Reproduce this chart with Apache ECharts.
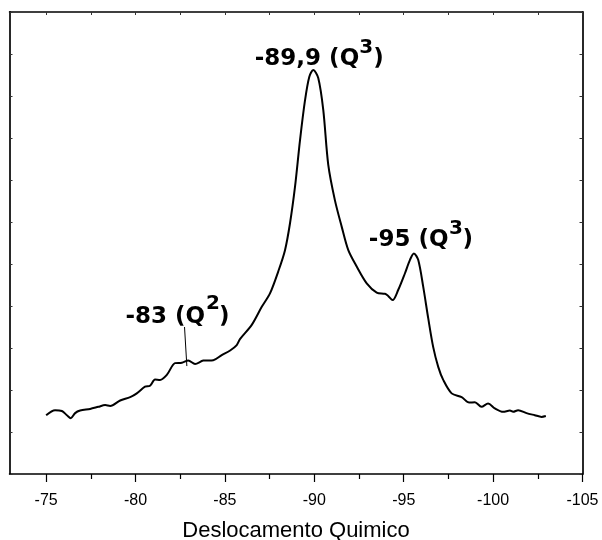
<!DOCTYPE html>
<html><head><meta charset="utf-8">
<script src="https://cdn.jsdelivr.net/npm/echarts@6/dist/echarts.min.js"></script>
<style>html,body{margin:0;padding:0;background:#fff}#c{width:602px;height:540px}</style>
</head><body><div id="c"></div>
<script>
// Chemical shift (ppm) and intensity (arbitrary units)
const shift = [-75.00,-75.50,-75.88,-76.16,-76.38,-76.62,-76.90,-77.46,-77.92,-78.30,-78.58,-79.14,-79.70,-80.07,-80.53,-80.81,-81.09,-81.37,-81.75,-82.21,-82.59,-82.95,-83.33,-83.79,-84.35,-84.82,-85.29,-85.66,-85.84,-86.50,-87.06,-87.52,-87.98,-88.36,-88.64,-88.92,-89.20,-89.48,-89.72,-89.94,-90.22,-90.50,-90.78,-91.15,-91.53,-91.90,-92.37,-92.93,-93.49,-93.95,-94.13,-94.38,-94.69,-95.07,-95.35,-95.57,-95.81,-96.09,-96.37,-96.65,-96.93,-97.21,-97.68,-98.24,-98.66,-98.98,-99.35,-99.72,-100.10,-100.56,-100.94,-101.12,-101.40,-101.87,-102.33,-102.71,-102.95];
const intensity = [14.0,15.2,15.0,14.0,13.3,14.5,15.1,15.5,16.0,16.4,16.2,17.5,18.3,19.2,20.8,21.0,22.5,22.4,23.6,26.4,26.5,27.0,26.2,27.0,27.1,28.3,29.4,30.7,32.1,35.5,39.8,43.0,48.2,53.3,59.7,68.4,79.5,89.0,94.6,96.2,94.3,86.7,73.6,65.2,58.9,53.3,49.4,45.4,43.2,42.9,42.4,41.4,43.8,47.8,51.0,52.5,51.0,44.6,37.1,30.2,25.5,22.4,19.2,18.3,17.0,17.1,16.0,16.8,15.6,14.8,15.1,14.8,15.2,14.5,14.0,13.6,13.8];
const xMajorTicks = [-105,-100,-95,-90,-85,-80,-75];
const xAllTicks = [-105,-102.5,-100,-97.5,-95,-92.5,-90,-87.5,-85,-82.5,-80,-77.5,-75];
const xMinorTicks = [-102.5,-97.5,-92.5,-87.5,-82.5,-77.5];
const xTitle = 'Deslocamento Quimico';
const peakMain = ['-89,9 (Q', '-95 (Q', '-83 (Q'];
const peakSup = ['3', '3', '2'];
const q2Pointer = [[-82.74, 35.0], [-82.87, 25.7]];

const data = shift.map((s, i) => [s, intensity[i]]);
const FONT = 'DejaVu Sans';
const richStyle = {
  a: {fontFamily: FONT, fontWeight: 'bold', fontSize: 23, lineHeight: 24, color: '#000'},
  g: {fontFamily: FONT, fontWeight: 'bold', fontSize: 23, lineHeight: 24, width: 14, color: '#000'}
};
function mainLabel(i, off) {
  return {show: true, position: 'inside', offset: off,
    formatter: '{a|' + peakMain[i] + '}{g| }{a|)}', rich: richStyle,
    fontSize: 23, lineHeight: 24, fontFamily: FONT, fontWeight: 'bold', color: '#000'};
}
function supLabel(i, off) {
  return {show: true, position: 'inside', offset: off, formatter: peakSup[i],
    fontSize: 20, lineHeight: 20, fontFamily: FONT, fontWeight: 'bold', color: '#000'};
}
const iMax = intensity.indexOf(Math.max(...intensity));
const i95 = 55;
const p1 = [shift[iMax], intensity[iMax]];
const p2 = [shift[i95], intensity[i95]];

const axisCommon = {type: 'value', min: -105, max: -72.95, inverse: true, splitLine: {show: false}};
const chart = echarts.init(document.getElementById('c'), null, {renderer: 'canvas'});
chart.setOption({
  animation: false,
  backgroundColor: '#fff',
  grid: {left: 9.5, right: 19.5, top: 12, bottom: 66, containLabel: false, outerBoundsMode: 'none'},
  xAxis: [
    Object.assign({}, axisCommon, {
      position: 'bottom',
      axisLine: {show: true, lineStyle: {color: '#000', width: 1.5}},
      axisTick: {show: true, inside: false, length: 8, customValues: xMajorTicks, lineStyle: {color: '#000', width: 1.2}},
      axisLabel: {show: true, customValues: xMajorTicks, margin: 18.5, fontSize: 16, fontFamily: 'Liberation Sans', color: '#000', formatter: v => String(v)},
      name: xTitle, nameLocation: 'middle', nameGap: 46,
      nameTextStyle: {fontSize: 22, fontFamily: 'Liberation Sans', color: '#000'}
    }),
    Object.assign({}, axisCommon, {
      position: 'bottom',
      axisLine: {show: false},
      axisTick: {show: true, inside: false, length: 5, customValues: xMinorTicks, lineStyle: {color: '#000', width: 1.2}},
      axisLabel: {show: false}
    }),
    Object.assign({}, axisCommon, {
      position: 'top',
      axisLine: {show: true, lineStyle: {color: '#000', width: 1.5}},
      axisTick: {show: true, inside: true, length: 3, customValues: xAllTicks, lineStyle: {color: '#333', width: 1}},
      axisLabel: {show: false}
    })
  ],
  yAxis: [
    {type: 'value', position: 'left', min: 0, max: 110, interval: 10, splitLine: {show: false},
     axisLine: {show: true, lineStyle: {color: '#111', width: 1.8}},
     axisTick: {show: true, inside: true, length: 3, lineStyle: {color: '#333', width: 1}},
     axisLabel: {show: false}},
    {type: 'value', position: 'right', min: 0, max: 110, interval: 10, splitLine: {show: false},
     axisLine: {show: true, lineStyle: {color: '#111', width: 1.8}},
     axisTick: {show: true, inside: true, length: 3, lineStyle: {color: '#333', width: 1}},
     axisLabel: {show: false}}
  ],
  series: [{
    type: 'line', xAxisIndex: 0, yAxisIndex: 0,
    data: data, smooth: 0.3, showSymbol: false, symbol: 'none',
    lineStyle: {color: '#000', width: 2}, itemStyle: {color: '#000'},
    markPoint: {
      symbol: 'circle', symbolSize: 0, silent: true,
      data: [
        {coord: p1, label: mainLabel(0, [6, -10.5])},
        {coord: p1, label: supLabel(0, [53, -22.5])},
        {coord: p2, label: mainLabel(1, [7, -13.5])},
        {coord: p2, label: supLabel(1, [42, -24.5])},
        {coord: q2Pointer[0], label: mainLabel(2, [-7, -9.5])},
        {coord: q2Pointer[0], label: supLabel(2, [28.5, -23])}
      ]
    },
    markLine: {
      symbol: ['none', 'none'], silent: true, label: {show: false},
      lineStyle: {color: '#000', width: 1, type: 'solid'},
      data: [[{coord: q2Pointer[0]}, {coord: q2Pointer[1]}]]
    }
  }]
});
</script></body></html>
